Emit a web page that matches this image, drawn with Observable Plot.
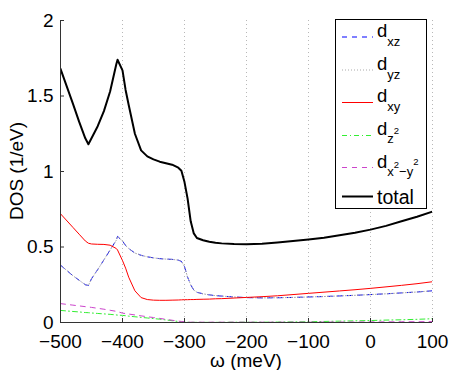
<!DOCTYPE html>
<html><head><meta charset="utf-8">
<script src="https://cdn.jsdelivr.net/npm/d3@7"></script>
<script src="https://cdn.jsdelivr.net/npm/@observablehq/plot@0.6"></script>
<style>
body{margin:0;background:#fff}
svg{font-family:"Liberation Sans",Arial,Helvetica,sans-serif}
</style>
</head><body><div id="chart"></div>
<script>
const omega = [-500,-480,-470,-460,-455,-450,-440,-430,-420,-410,-408,-400,-395,-390,-380,-370,-360,-350,-340,-330,-320,-310,-305,-300,-295,-290,-285,-280,-270,-260,-250,-240,-220,-200,-175,-150,-125,-100,-75,-50,-25,0,25,50,75,100];
const dxz = [0.38,0.31,0.28,0.25,0.245,0.29,0.35,0.415,0.48,0.545,0.57,0.54,0.51,0.49,0.46,0.445,0.435,0.428,0.423,0.42,0.418,0.413,0.405,0.37,0.30,0.25,0.215,0.20,0.19,0.183,0.178,0.175,0.169,0.165,0.163,0.164,0.166,0.169,0.172,0.176,0.18,0.185,0.19,0.196,0.202,0.21];
const dyz = [0.38,0.31,0.28,0.25,0.245,0.29,0.35,0.415,0.48,0.545,0.57,0.54,0.51,0.49,0.46,0.445,0.435,0.428,0.423,0.42,0.418,0.413,0.405,0.37,0.30,0.25,0.215,0.20,0.19,0.183,0.178,0.175,0.169,0.165,0.163,0.164,0.166,0.169,0.172,0.176,0.18,0.185,0.19,0.196,0.202,0.21];
const dxy = [0.72,0.63,0.585,0.54,0.525,0.52,0.518,0.517,0.512,0.49,0.48,0.41,0.36,0.30,0.21,0.165,0.152,0.148,0.147,0.147,0.148,0.149,0.15,0.151,0.151,0.152,0.152,0.153,0.154,0.155,0.157,0.158,0.162,0.166,0.171,0.177,0.185,0.193,0.201,0.209,0.217,0.226,0.236,0.246,0.257,0.27];
const dz2 = [0.08,0.073,0.07,0.066,0.065,0.063,0.06,0.057,0.054,0.05,0.049,0.047,0.045,0.042,0.038,0.034,0.03,0.026,0.022,0.017,0.012,0.007,0.005,0.003,0.002,0.001,0.001,0.001,0.001,0.001,0.001,0.001,0.002,0.002,0.002,0.003,0.004,0.005,0.007,0.009,0.011,0.013,0.016,0.018,0.021,0.025];
const dx2y2 = [0.125,0.115,0.11,0.105,0.103,0.10,0.094,0.088,0.081,0.074,0.072,0.062,0.059,0.056,0.05,0.044,0.038,0.033,0.027,0.021,0.015,0.009,0.007,0.005,0.003,0.002,0.002,0.002,0.002,0.002,0.002,0.002,0.002,0.002,0.002,0.002,0.002,0.002,0.003,0.003,0.003,0.004,0.004,0.005,0.005,0.006];
const total = [1.68,1.45,1.33,1.22,1.18,1.22,1.30,1.40,1.53,1.71,1.74,1.67,1.54,1.44,1.25,1.14,1.10,1.08,1.065,1.055,1.045,1.025,1.005,0.93,0.82,0.67,0.59,0.56,0.545,0.535,0.528,0.524,0.52,0.518,0.522,0.53,0.54,0.55,0.562,0.578,0.595,0.615,0.64,0.67,0.70,0.735];

const xTicks = [-500,-400,-300,-200,-100,0,100];
const yTicks = [0,0.5,1,1.5,2];
const yTickLabels = ["0","0.5","1","1.5","2"];
const xLabel = "ω (meV)";
const yLabel = "DOS (1/eV)";

// legend label parts: [text, baseline shift, font size]
const legendLabels = [
  [["d",0,18.5],["xz",9,13]],
  [["d",0,18.5],["yz",9,13]],
  [["d",0,18.5],["xy",9,13]],
  [["d",0,18.5],["z",8,13],["2",-1,9.5]],
  [["d",0,18.5],["x",8,13],["2",0,9.5],["\u2212y",8,13],["2",-2.6,9.5]],
  [["total",0,19.5]]
];

const series = [
  {values: dxz, stroke:"#0000ff", dash:"5,5", width:1},
  {values: dyz, stroke:"#aaaaaa", dash:"1,2", width:1},
  {values: dxy, stroke:"#ff0000", dash:null, width:1},
  {values: dz2, stroke:"#33ee33", dash:"5,3,1,3", width:1},
  {values: dx2y2, stroke:"#cc44cc", dash:"5,5", width:1},
  {values: total, stroke:"#000000", dash:null, width:2}
];
const rows = s => omega.map((w,i)=>({omega:w, dos:s.values[i]}));

const plot = Plot.plot({
  width:453, height:370,
  marginLeft:60, marginRight:21, marginTop:20, marginBottom:48,
  style:{background:"white", fontFamily:"'Liberation Sans',Arial,sans-serif", overflow:"visible"},
  x:{domain:[-500,100]},
  y:{domain:[0,2]},
  marks:[
    Plot.ruleX(xTicks.slice(1), {stroke:"#b8b8b8", strokeDasharray:"1,3"}),
    ...series.map(s=>Plot.line(rows(s), {x:"omega", y:"dos", stroke:s.stroke, strokeWidth:s.width, strokeDasharray:s.dash, clip:true})),
    Plot.ruleX([-500], {stroke:"#333"}),
    Plot.ruleY([0], {stroke:"#333"}),
    Plot.axisX({ticks:xTicks, tickSize:-4, fill:"none", stroke:"#333", label:null}),
    Plot.axisX({ticks:xTicks, tickSize:0, tickPadding:12, fontSize:19, fill:"black", label:null}),
    Plot.axisY({ticks:yTicks, tickSize:-4, fill:"none", stroke:"#333", label:null}),
    Plot.axisY({ticks:yTicks, tickSize:0, tickPadding:7, fontSize:19, fill:"black", label:null, tickFormat:d=>yTickLabels[yTicks.indexOf(d)]})
  ]
});

const svg = d3.select(plot);
const xs = plot.scale("x"), ys = plot.scale("y");
const cx = (xs.range[0] + xs.range[1]) / 2;
const cy = (ys.range[0] + ys.range[1]) / 2;

// axis titles
svg.append("text").attr("x", cx).attr("y", 367).attr("text-anchor","middle")
  .attr("fill","black").style("font-size","19px").text(xLabel);
svg.append("text").attr("transform", `translate(23,${cy}) rotate(-90)`).attr("text-anchor","middle")
  .attr("fill","black").style("font-size","19px").text(yLabel);

// legend
const lg = svg.append("g");
lg.append("rect").attr("x",335.5).attr("y",19.5).attr("width",91).attr("height",189)
  .attr("fill","white").attr("stroke","black").attr("stroke-width",1);
const lineYs = [37, 70, 102.5, 135.5, 167.5, 196.5];
const textYs = [37, 70, 102, 135, 168, 204];
series.forEach((s,i)=>{
  lg.append("line").attr("x1",342).attr("x2",373).attr("y1",lineYs[i]).attr("y2",lineYs[i])
    .attr("stroke",s.stroke).attr("stroke-width",s.width).attr("stroke-dasharray",s.dash);
  const t = lg.append("text").attr("x",377).attr("y",textYs[i]).attr("text-anchor","start")
    .attr("fill","black").style("font-size","18.5px");
  legendLabels[i].forEach(([txt,shift,size])=>{
    t.append("tspan").attr("y",textYs[i]+shift).style("font-size",size+"px").text(txt);
  });
});

document.getElementById("chart").appendChild(plot);
</script>
</body></html>
